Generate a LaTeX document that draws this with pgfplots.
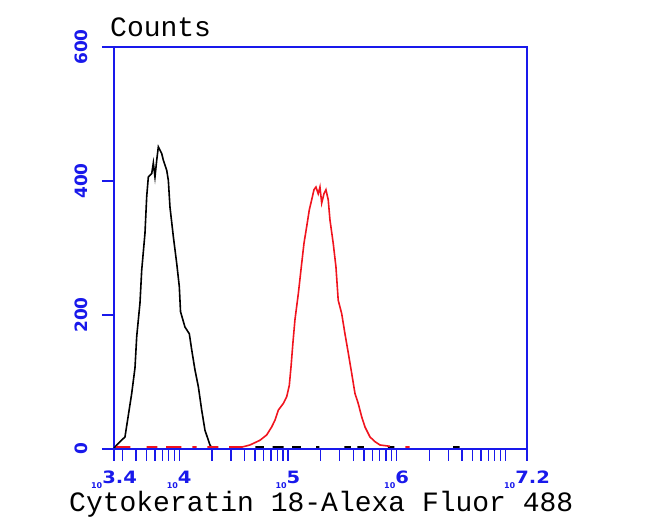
\documentclass[border=0pt]{standalone}
\usepackage{pgfplots}
\pgfplotsset{compat=1.18}
\usepackage{fontspec}
\setmainfont{Liberation Mono}
\newfontfamily\tickfont{DejaVu Sans}
\definecolor{axblue}{RGB}{25,25,235}
\definecolor{histred}{RGB}{240,20,30}
\newcommand{\xl}[1]{{\fontsize{8}{8}\selectfont 10}\raisebox{5pt}{\scalebox{1.15}[1]{\fontsize{17}{17}\selectfont #1}}}

\begin{document}
\begin{tikzpicture}
\path[use as bounding box] (0,0) rectangle (650pt,532pt);
\begin{axis}[
  at={(114pt,83pt)}, anchor=south west,
  scale only axis, width=413pt, height=402pt,
  xmin=3.4, xmax=7.2, ymin=0, ymax=600,
  axis line style={axblue, line width=1.5pt},
  xtick style={axblue, line width=1.4pt},
  ytick style={axblue, line width=1.4pt},
  tick align=outside,
  major tick length=12pt, minor tick length=12pt,
  xtick pos=left, ytick pos=left,
  xtick={3.4,4,5,6,7.2},
  xticklabels={\xl{3.4},\xl{4},\xl{5},\xl{6},\xl{7.2}},
  minor xtick={3.477,3.602,3.699,3.778,3.845,3.903,3.954,
    4.301,4.477,4.602,4.699,4.778,4.845,4.903,4.954,
    5.301,5.477,5.602,5.699,5.778,5.845,5.903,5.954,
    6.301,6.477,6.602,6.699,6.778,6.845,6.903,6.954,7.0},
  ytick={0,200,400,600},
  yticklabels={0,200,400,600},
  xticklabel style={anchor=north, inner sep=0pt, outer ysep=10pt, text=axblue, font=\tickfont\bfseries},
  yticklabel style={rotate=90, anchor=south, inner sep=0pt, outer ysep=14pt, text=axblue,
    font=\tickfont\bfseries\fontsize{17}{17}\selectfont},
  unbounded coords=jump,
  clip=false,
]
% isotype control (black)
\addplot[black, line width=1.6pt] coordinates {
  (3.40,1) (3.425,6) (3.501,18) (3.563,83) (3.593,121) (3.609,168) (3.639,218)
  (3.655,267) (3.685,322) (3.701,377) (3.716,406) (3.747,411) (3.762,427)
  (3.777,406) (3.793,431) (3.808,451) (3.839,441) (3.854,431) (3.885,416)
  (3.900,401) (3.915,361) (3.946,317) (3.977,277) (4.001,242) (4.012,205)
  (4.053,182) (4.093,172) (4.115,148) (4.145,118) (4.176,93) (4.207,58)
  (4.237,28) (4.283,6) (4.30,2) (4.31,nan)
  (4.52,3) (4.56,3) (4.57,nan) (4.70,3) (4.78,3) (4.79,nan)
  (4.86,3) (4.96,3) (4.97,nan) (5.04,3) (5.12,3) (5.13,nan)
  (5.26,3) (5.29,3) (5.30,nan) (5.52,3) (5.58,3) (5.59,nan)
  (5.64,3) (5.70,3) (5.71,nan) (5.92,3) (5.98,3) (5.99,nan)
  (6.52,3) (6.58,3)
};
% Cytokeratin 18 (red)
\addplot[histred, line width=1.6pt] coordinates {
  (3.42,3) (3.55,3) (3.56,nan) (3.70,3) (3.80,3) (3.81,nan)
  (3.88,3) (4.02,3) (4.03,nan) (4.12,3) (4.16,3) (4.17,nan)
  (4.26,3) (4.36,3) (4.37,nan) (4.46,3) (4.58,3)
  (4.651,6) (4.743,13) (4.805,21) (4.851,33) (4.881,43) (4.912,58)
  (4.958,68) (4.989,78) (5.013,95) (5.030,125) (5.046,158) (5.065,193)
  (5.096,232) (5.120,267) (5.148,307) (5.173,332) (5.197,357) (5.219,372)
  (5.240,387) (5.258,391) (5.279,381) (5.295,391) (5.311,367) (5.332,381)
  (5.350,387) (5.371,372) (5.387,342) (5.417,307) (5.442,272) (5.463,222)
  (5.495,202) (5.525,172) (5.556,143) (5.587,113) (5.617,83) (5.647,68)
  (5.679,48) (5.709,33) (5.755,18) (5.801,11) (5.847,6) (5.939,4)
  (5.95,nan) (6.08,3) (6.12,3)
};
% anchor points for the major tick marks
\coordinate (ya) at (axis cs:3.4,0);
\coordinate (yb) at (axis cs:3.4,200);
\coordinate (yc) at (axis cs:3.4,400);
\coordinate (yd) at (axis cs:3.4,600);
\coordinate (xa) at (axis cs:3.4,0);
\coordinate (xb) at (axis cs:4,0);
\coordinate (xc) at (axis cs:5,0);
\coordinate (xd) at (axis cs:6,0);
\coordinate (xe) at (axis cs:7.2,0);
\end{axis}
\foreach \c in {ya,yb,yc,yd}
  \draw[axblue, line width=1.4pt] ([xshift=0.7pt]\c) -- ++(-12.7pt,0pt);
\foreach \c in {xa,xb,xc,xd,xe}
  \draw[axblue, line width=1.4pt] ([yshift=0.7pt]\c) -- ++(0pt,-12.7pt);
\node[anchor=base west, inner sep=0pt, font=\fontsize{28}{28}\selectfont] at (110pt,495pt) {Counts};
\node[anchor=base west, inner sep=0pt, font=\fontsize{28}{28}\selectfont] at (69pt,20pt) {Cytokeratin 18-Alexa Fluor 488};
\end{tikzpicture}
\end{document}
